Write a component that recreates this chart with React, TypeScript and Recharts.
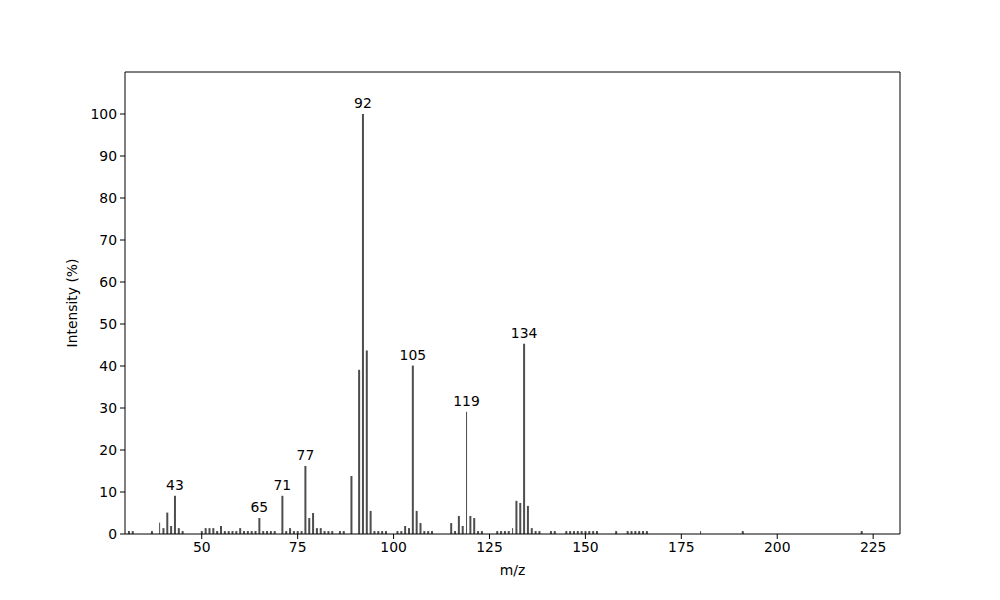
import React from "react";
import { BarChart, Bar, XAxis, YAxis, LabelList, ReferenceLine } from "recharts";

const peakMz = [
  31, 32, 37, 40, 41, 42, 43, 44, 45,
  50, 51, 52, 53, 54, 55, 56, 57, 58, 59, 60, 61, 62, 63, 64, 65, 66, 67, 68, 69,
  71, 72, 73, 74, 75, 76, 77, 78, 79, 80, 81, 82, 83, 84, 86, 87, 89,
  91, 92, 93, 94, 95, 96, 97, 98, 101, 102, 103, 104, 105, 106, 107, 108, 109, 110,
  115, 116, 117, 118, 120, 121, 122, 123, 127, 128, 129, 130, 132, 133, 134, 135, 136, 137, 138,
  141, 142, 145, 146, 147, 148, 149, 150, 151, 152, 153, 158, 161, 162, 163, 164, 165, 166, 191, 222,
];
const peakIntensity = [
  0.7, 0.7, 0.7, 1.4, 5.1, 1.9, 9.1, 1.4, 0.7,
  0.7, 1.4, 1.4, 1.4, 0.7, 1.9, 0.7, 0.7, 0.7, 0.7, 1.4, 0.7, 0.7, 0.7, 0.7, 3.8, 0.7, 0.7, 0.7, 0.7,
  9.1, 0.7, 1.4, 0.7, 0.7, 0.7, 16.2, 3.8, 5.0, 1.4, 1.4, 0.7, 0.7, 0.7, 0.7, 0.7, 13.8,
  39.1, 100, 43.7, 5.5, 0.7, 0.7, 0.7, 0.7, 0.7, 0.7, 1.9, 1.4, 40.1, 5.5, 2.6, 0.7, 0.7, 0.7,
  2.6, 0.7, 4.3, 1.9, 4.3, 3.8, 0.7, 0.7, 0.7, 0.7, 0.7, 0.7, 7.9, 7.4, 45.3, 6.7, 1.4, 0.7, 0.7,
  0.7, 0.7, 0.7, 0.7, 0.7, 0.7, 0.7, 0.7, 0.7, 0.7, 0.7, 0.7, 0.7, 0.7, 0.7, 0.7, 0.7, 0.7, 0.7, 0.7,
];
const thinMz = [39, 119, 131, 180];
const thinIntensity = [2.7, 29.1, 1.4, 0.7];
const labeledMz = [43, 65, 71, 77, 92, 105, 119, 134];
const xTicks = [50, 75, 100, 125, 150, 175, 200, 225];
const yTicks = [0, 10, 20, 30, 40, 50, 60, 70, 80, 90, 100];

const allMz = Array.from(new Set([...peakMz, ...thinMz])).sort((a, b) => a - b);
const data = allMz.map((mz) => {
  const pi = peakMz.indexOf(mz);
  const ti = thinMz.indexOf(mz);
  return {
    mz,
    main: pi >= 0 ? peakIntensity[pi] : 0,
    thin: ti >= 0 ? thinIntensity[ti] : 0,
    mainLabel: pi >= 0 && labeledMz.includes(mz) ? String(mz) : null,
    thinLabel: ti >= 0 && labeledMz.includes(mz) ? String(mz) : null,
  };
});

const FONT = "DejaVu Sans, sans-serif";
const FS = 13.9;
const BAR_COLOR = "#4d4d4d";

const renderLabel = (p: any) => {
  if (p.value == null || p.value === "") return null;
  return (
    <text
      x={p.x + p.width / 2}
      y={p.y - 6}
      textAnchor="middle"
      fontFamily={FONT}
      fontSize={FS}
      fill="#000"
    >
      {p.value}
    </text>
  );
};

const ThinShape = (p: any) => {
  if (!p.height) return null;
  return (
    <rect
      x={p.x + p.width / 2 - 0.5}
      y={p.y}
      width={1}
      height={p.height}
      fill={BAR_COLOR}
    />
  );
};

export default function App() {
  return (
    <div style={{ position: "absolute", left: 0, top: 0, width: 1000, height: 600, background: "#fff" }}>
      <BarChart
        width={1000}
        height={600}
        data={data}
        margin={{ top: 72, right: 100, bottom: 0, left: 0 }}
      >
        <XAxis
          dataKey="mz"
          type="number"
          domain={[30, 232]}
          ticks={xTicks}
          allowDataOverflow
          height={66}
          tickSize={5}
          tickMargin={3}
          stroke="#000"
          tick={{ fill: "#000", fontFamily: FONT, fontSize: FS }}
          label={{ value: "m/z", position: "insideBottom", offset: 25, fill: "#000", fontFamily: FONT, fontSize: FS }}
        />
        <YAxis
          domain={[0, 110]}
          ticks={yTicks}
          allowDataOverflow
          width={125}
          tickSize={5}
          tickMargin={3}
          stroke="#000"
          tick={{ fill: "#000", fontFamily: FONT, fontSize: FS }}
          label={{
            value: "Intensity (%)",
            angle: -90,
            position: "insideLeft",
            offset: 72,
            style: { textAnchor: "middle" },
            fill: "#000",
            fontFamily: FONT,
            fontSize: FS,
          }}
        />
        <ReferenceLine y={110} stroke="#000" strokeWidth={1} ifOverflow="visible" />
        <ReferenceLine x={232} stroke="#000" strokeWidth={1} ifOverflow="visible" />
        <Bar dataKey="main" stackId="s" fill={BAR_COLOR} barSize={2} isAnimationActive={false}>
          <LabelList dataKey="mainLabel" content={renderLabel} />
        </Bar>
        <Bar dataKey="thin" stackId="s" fill={BAR_COLOR} barSize={2} shape={ThinShape} isAnimationActive={false}>
          <LabelList dataKey="thinLabel" content={renderLabel} />
        </Bar>
      </BarChart>
    </div>
  );
}
